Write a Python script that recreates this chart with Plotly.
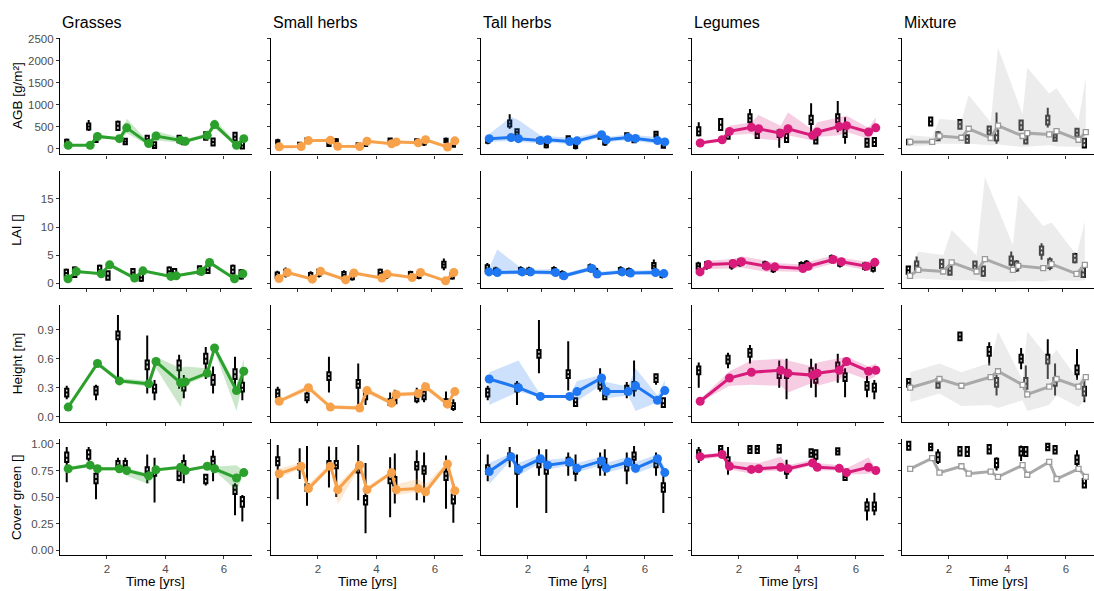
import plotly.graph_objects as go

# ---------------- categories / times ----------------
species = ["Grasses", "Small herbs", "Tall herbs", "Legumes", "Mixture"]
variables = ["AGB [g/m²]", "LAI []", "Height [m]", "Cover green []"]

t_full = [0.68, 1.43, 1.68, 2.43, 2.68, 3.43, 3.68, 4.52, 4.68, 5.43, 5.68, 6.43, 6.68]
o_full = [0.63, 1.38, 1.63, 2.38, 2.63, 3.38, 3.63, 4.47, 4.63, 5.38, 5.63, 6.38, 6.63]
t_lai = [1.43, 1.68, 2.43, 2.68, 3.43, 3.68, 4.52, 4.68, 5.43, 5.68, 6.43, 6.68]
o_lai = [1.38, 1.63, 2.38, 2.63, 3.38, 3.63, 4.47, 4.63, 5.38, 5.63, 6.38, 6.63]
t_hgt = [0.68, 1.68, 2.43, 3.43, 3.68, 4.52, 4.68, 5.43, 5.68, 6.43, 6.68]
o_hgt = [0.63, 1.63, 2.38, 3.38, 3.63, 4.47, 4.63, 5.38, 5.63, 6.38, 6.63]

# observed boxes: [lower whisker, q1, median, q3, upper whisker]
# ---------------- Grasses ----------------
grasses_agb_mid = [75, 75, 275, 225, 470, 112, 285, 190, 165, 300, 545, 75, 225]
grasses_agb_lo = [55, 55, 240, 195, 350, 70, 180, 130, 130, 260, 460, 50, 190]
grasses_agb_hi = [95, 100, 310, 260, 680, 150, 400, 250, 210, 345, 680, 110, 260]
grasses_agb_obs = [[60, 85, 130, 200, 230], [400, 430, 500, 570, 650], [130, 150, 200, 260, 290],
                   [400, 420, 520, 610, 640], [80, 100, 160, 225, 240], [120, 140, 210, 290, 310],
                   [0, 10, 70, 140, 160], [120, 140, 210, 290, 300], [80, 100, 160, 220, 240],
                   [180, 200, 290, 370, 400], [50, 70, 150, 230, 250], [160, 180, 270, 360, 380],
                   [-10, 0, 70, 150, 170]]
grasses_lai_mid = [0.77, 2.07, 1.66, 3.26, 0.89, 2.19, 1.19, 1.30, 2.07, 3.68, 0.77, 1.66]
grasses_lai_lo = [0.6, 1.85, 1.45, 2.9, 0.75, 1.95, 1.0, 1.1, 1.85, 3.3, 0.6, 1.45]
grasses_lai_hi = [0.95, 2.3, 1.9, 3.7, 1.05, 2.45, 1.4, 1.55, 2.3, 4.1, 0.95, 1.9]
grasses_lai_obs = [[1.0, 1.2, 1.8, 2.4, 2.6], [0.9, 1.1, 1.9, 2.8, 3.0], [1.6, 1.8, 2.4, 3.1, 3.3],
                   [0.4, 0.6, 1.3, 2.1, 2.3], [1.1, 1.3, 1.9, 2.5, 2.7], [0.2, 0.4, 1.0, 1.7, 1.9],
                   [1.3, 1.5, 2.1, 2.8, 3.0], [1.0, 1.2, 1.8, 2.5, 2.7], [1.5, 1.7, 2.3, 3.0, 3.2],
                   [1.6, 1.8, 2.4, 3.1, 3.3], [1.5, 1.7, 2.4, 3.1, 3.3], [0.6, 0.8, 1.5, 2.3, 2.5]]
grasses_hgt_mid = [0.10, 0.55, 0.37, 0.34, 0.57, 0.35, 0.36, 0.45, 0.71, 0.27, 0.47]
grasses_hgt_lo = [0.09, 0.53, 0.35, 0.31, 0.50, 0.10, 0.33, 0.42, 0.68, 0.06, 0.40]
grasses_hgt_hi = [0.11, 0.57, 0.40, 0.37, 0.62, 0.50, 0.52, 0.50, 0.74, 0.33, 0.60]
grasses_hgt_obs = [[0.18, 0.21, 0.25, 0.29, 0.32], [0.17, 0.23, 0.27, 0.31, 0.33], [0.37, 0.80, 0.84, 0.88, 1.05],
                   [0.24, 0.49, 0.54, 0.58, 0.84], [0.17, 0.25, 0.29, 0.33, 0.38], [0.29, 0.48, 0.53, 0.58, 0.64],
                   [0.19, 0.27, 0.32, 0.37, 0.43], [0.39, 0.55, 0.60, 0.65, 0.72], [0.24, 0.33, 0.38, 0.43, 0.52],
                   [0.26, 0.39, 0.44, 0.49, 0.62], [0.17, 0.26, 0.30, 0.35, 0.45]]
grasses_cov_mid = [0.766, 0.80, 0.766, 0.766, 0.75, 0.70, 0.756, 0.78, 0.75, 0.79, 0.766, 0.68, 0.73]
grasses_cov_lo = [0.75, 0.785, 0.75, 0.75, 0.70, 0.62, 0.74, 0.765, 0.735, 0.775, 0.75, 0.56, 0.715]
grasses_cov_hi = [0.78, 0.815, 0.78, 0.78, 0.77, 0.72, 0.77, 0.795, 0.765, 0.805, 0.785, 0.80, 0.745]
grasses_cov_obs = [[0.64, 0.83, 0.87, 0.92, 0.97], [0.84, 0.86, 0.90, 0.94, 0.97], [0.48, 0.63, 0.67, 0.72, 0.77],
                   [0.73, 0.77, 0.80, 0.84, 0.87], [0.72, 0.77, 0.80, 0.84, 0.87], [0.63, 0.70, 0.74, 0.78, 0.90],
                   [0.45, 0.70, 0.73, 0.77, 0.87], [0.65, 0.66, 0.70, 0.75, 0.77], [0.63, 0.75, 0.80, 0.84, 0.90],
                   [0.61, 0.63, 0.67, 0.71, 0.72], [0.65, 0.80, 0.84, 0.88, 0.94], [0.33, 0.53, 0.57, 0.61, 0.63],
                   [0.27, 0.41, 0.46, 0.50, 0.52]]

# ---------------- Small herbs ----------------
small_agb_mid = [40, 45, 180, 190, 50, 45, 165, 110, 150, 130, 200, 35, 175]
small_agb_lo = [25, 30, 150, 160, 30, 30, 130, 85, 120, 100, 165, 20, 145]
small_agb_hi = [55, 60, 210, 225, 70, 60, 200, 135, 180, 160, 240, 50, 205]
small_agb_obs = [[80, 110, 150, 190, 220], [30, 50, 90, 130, 150], [120, 150, 190, 230, 260],
                 [40, 60, 100, 140, 160], [110, 130, 170, 210, 240], [20, 40, 80, 120, 140],
                 [40, 60, 100, 140, 170], [130, 150, 190, 230, 250], [60, 80, 120, 160, 190],
                 [110, 130, 170, 210, 240], [60, 90, 130, 170, 200], [120, 140, 180, 220, 250],
                 [20, 40, 80, 120, 150]]
small_lai_mid = [0.8, 1.9, 0.7, 2.1, 0.6, 1.8, 0.9, 1.6, 1.0, 1.9, 0.4, 1.9]
small_lai_lo = [0.6, 1.6, 0.5, 1.8, 0.4, 1.5, 0.7, 1.3, 0.8, 1.6, 0.2, 1.6]
small_lai_hi = [1.0, 2.2, 0.9, 2.4, 0.8, 2.1, 1.1, 1.9, 1.2, 2.2, 0.6, 2.2]
small_lai_obs = [[0.7, 0.9, 1.4, 1.9, 2.2], [1.0, 1.3, 1.8, 2.4, 2.8], [0.5, 0.8, 1.3, 1.8, 2.1],
                 [1.0, 1.3, 1.8, 2.4, 2.7], [0.7, 1.0, 1.5, 2.0, 2.3], [0.4, 0.7, 1.2, 1.7, 2.0],
                 [1.0, 1.3, 1.8, 2.4, 2.6], [0.7, 0.9, 1.4, 1.9, 2.1], [0.8, 1.0, 1.5, 2.0, 2.2],
                 [0.7, 0.9, 1.4, 1.9, 2.2], [2.3, 2.8, 3.3, 3.8, 4.4], [0.6, 0.8, 1.3, 1.8, 2.0]]
small_hgt_mid = [0.16, 0.30, 0.10, 0.09, 0.27, 0.14, 0.23, 0.24, 0.31, 0.13, 0.26]
small_hgt_lo = [0.14, 0.27, 0.08, 0.07, 0.24, 0.12, 0.21, 0.22, 0.28, 0.11, 0.24]
small_hgt_hi = [0.18, 0.33, 0.12, 0.11, 0.30, 0.16, 0.25, 0.26, 0.34, 0.15, 0.28]
small_hgt_obs = [[0.17, 0.20, 0.24, 0.28, 0.31], [0.14, 0.17, 0.20, 0.24, 0.27], [0.25, 0.38, 0.42, 0.46, 0.62],
                 [0.08, 0.30, 0.34, 0.38, 0.55], [0.12, 0.18, 0.22, 0.26, 0.30], [0.10, 0.12, 0.15, 0.18, 0.25],
                 [0.12, 0.14, 0.17, 0.20, 0.28], [0.14, 0.16, 0.19, 0.22, 0.30], [0.15, 0.18, 0.22, 0.26, 0.35],
                 [0.10, 0.12, 0.15, 0.18, 0.26], [0.06, 0.08, 0.11, 0.14, 0.18]]
small_cov_mid = [0.72, 0.79, 0.58, 0.79, 0.57, 0.80, 0.57, 0.73, 0.57, 0.58, 0.55, 0.81, 0.56]
small_cov_lo = [0.68, 0.77, 0.55, 0.77, 0.43, 0.78, 0.55, 0.71, 0.52, 0.55, 0.53, 0.79, 0.54]
small_cov_hi = [0.77, 0.82, 0.62, 0.82, 0.62, 0.82, 0.60, 0.75, 0.62, 0.67, 0.62, 0.83, 0.58]
small_cov_obs = [[0.48, 0.80, 0.84, 0.875, 0.99], [0.67, 0.76, 0.78, 0.81, 0.96], [0.42, 0.56, 0.59, 0.62, 0.98],
                 [0.59, 0.77, 0.80, 0.84, 0.975], [0.50, 0.77, 0.80, 0.84, 0.97], [0.47, 0.73, 0.76, 0.80, 0.99],
                 [0.16, 0.43, 0.47, 0.51, 0.82], [0.31, 0.63, 0.67, 0.71, 0.875], [0.44, 0.61, 0.65, 0.69, 0.91],
                 [0.47, 0.76, 0.79, 0.83, 0.94], [0.45, 0.72, 0.75, 0.79, 0.92], [0.39, 0.66, 0.70, 0.74, 0.89],
                 [0.26, 0.44, 0.48, 0.525, 0.625]]

# ---------------- Tall herbs ----------------
tall_agb_mid = [225, 250, 225, 180, 200, 160, 175, 315, 200, 250, 230, 180, 150]
tall_agb_lo = [150, 170, 150, 120, 140, 100, 120, 250, 150, 190, 170, 110, 100]
tall_agb_hi = [330, 720, 650, 300, 280, 250, 260, 380, 260, 320, 300, 260, 220]
tall_agb_obs = [[100, 130, 180, 230, 260], [450, 500, 570, 640, 780], [280, 300, 370, 440, 460],
                [100, 130, 180, 230, 250], [0, 30, 80, 130, 150], [150, 170, 220, 280, 300],
                [-20, 10, 60, 110, 130], [200, 220, 260, 310, 330], [60, 90, 140, 190, 210],
                [230, 250, 300, 350, 370], [120, 140, 190, 240, 260], [250, 270, 320, 380, 400],
                [0, 20, 70, 120, 140]]
tall_lai_mid = [2.0, 1.9, 2.0, 2.0, 1.9, 1.3, 2.6, 1.6, 2.0, 1.8, 1.9, 1.7]
tall_lai_lo = [1.5, 1.5, 1.6, 1.6, 1.4, 1.0, 2.2, 1.3, 1.7, 1.5, 1.5, 1.4]
tall_lai_hi = [2.6, 6.0, 2.5, 2.4, 2.5, 1.7, 3.0, 2.0, 2.4, 2.2, 2.4, 2.1]
tall_lai_obs = [[1.8, 2.1, 2.6, 3.2, 3.6], [1.3, 1.6, 2.1, 2.6, 2.9], [1.4, 1.7, 2.2, 2.7, 3.0],
                [1.3, 1.6, 2.1, 2.6, 2.9], [1.4, 1.7, 2.2, 2.7, 3.0], [0.7, 1.0, 1.5, 2.0, 2.3],
                [1.9, 2.2, 2.7, 3.2, 3.5], [1.2, 1.5, 2.0, 2.5, 2.8], [1.4, 1.7, 2.2, 2.7, 3.0],
                [1.2, 1.5, 2.0, 2.5, 2.8], [2.3, 2.6, 3.1, 3.6, 4.2], [0.8, 1.1, 1.5, 2.0, 2.3]]
tall_hgt_mid = [0.39, 0.30, 0.21, 0.21, 0.26, 0.40, 0.26, 0.26, 0.32, 0.17, 0.27]
tall_hgt_lo = [0.12, 0.26, 0.20, 0.19, 0.16, 0.33, 0.19, 0.22, 0.06, 0.15, 0.26]
tall_hgt_hi = [0.46, 0.58, 0.23, 0.22, 0.37, 0.43, 0.36, 0.31, 0.50, 0.22, 0.38]
tall_hgt_obs = [[0.17, 0.21, 0.25, 0.29, 0.32], [0.12, 0.26, 0.30, 0.34, 0.37], [0.45, 0.61, 0.65, 0.69, 1.0],
                [0.27, 0.40, 0.44, 0.48, 0.78], [0.10, 0.11, 0.15, 0.19, 0.20], [0.26, 0.29, 0.33, 0.38, 0.50],
                [0.17, 0.18, 0.22, 0.26, 0.32], [0.19, 0.24, 0.28, 0.32, 0.36], [0.21, 0.27, 0.31, 0.36, 0.58],
                [0.33, 0.36, 0.40, 0.44, 0.45], [0.09, 0.10, 0.14, 0.19, 0.20]]
tall_cov_mid = [0.74, 0.88, 0.76, 0.86, 0.80, 0.83, 0.77, 0.84, 0.77, 0.83, 0.77, 0.86, 0.73]
tall_cov_lo = [0.62, 0.85, 0.70, 0.82, 0.76, 0.80, 0.73, 0.80, 0.73, 0.78, 0.72, 0.80, 0.68]
tall_cov_hi = [0.82, 0.91, 0.82, 0.90, 0.85, 0.87, 0.82, 0.88, 0.82, 0.88, 0.83, 0.90, 0.78]
tall_cov_obs = [[0.65, 0.72, 0.76, 0.80, 0.90], [0.78, 0.85, 0.88, 0.91, 0.97], [0.40, 0.72, 0.76, 0.80, 0.90],
                [0.70, 0.78, 0.82, 0.86, 0.95], [0.35, 0.72, 0.76, 0.80, 0.95], [0.70, 0.80, 0.83, 0.87, 0.92],
                [0.65, 0.72, 0.76, 0.80, 0.90], [0.70, 0.78, 0.82, 0.86, 0.92], [0.70, 0.80, 0.83, 0.86, 0.95],
                [0.62, 0.75, 0.79, 0.83, 0.92], [0.75, 0.85, 0.88, 0.92, 0.98], [0.70, 0.78, 0.82, 0.86, 0.92],
                [0.35, 0.55, 0.59, 0.63, 0.75]]

# ---------------- Legumes ----------------
leg_agb_mid = [127, 200, 390, 485, 450, 350, 450, 300, 375, 500, 520, 375, 470]
leg_agb_lo = [110, 180, 300, 335, 225, 185, 300, 185, 260, 300, 375, 225, 410]
leg_agb_hi = [145, 220, 520, 600, 760, 520, 820, 425, 600, 710, 745, 470, 710]
leg_agb_obs = [[276, 300, 390, 485, 600], [410, 420, 540, 670, 690], [200, 225, 300, 375, 390],
               [560, 600, 690, 780, 900], [220, 240, 330, 410, 430], [15, 260, 330, 410, 450],
               [130, 150, 240, 335, 350], [300, 560, 650, 745, 1030], [110, 115, 200, 300, 380],
               [370, 600, 690, 780, 1080], [110, 260, 350, 450, 710], [30, 40, 130, 225, 240],
               [50, 60, 150, 240, 260]]
leg_lai_mid = [2.0, 3.3, 3.5, 3.8, 3.0, 2.9, 2.6, 3.0, 4.2, 3.8, 3.0, 3.7]
leg_lai_lo = [1.8, 2.5, 2.6, 2.8, 2.0, 2.1, 2.0, 2.3, 3.5, 3.2, 2.3, 3.0]
leg_lai_hi = [2.2, 4.0, 4.3, 4.8, 4.0, 3.6, 3.3, 3.8, 4.9, 4.5, 3.8, 4.3]
leg_lai_obs = [[2.2, 2.5, 3.0, 3.5, 3.8], [2.4, 2.7, 3.2, 3.7, 4.0], [2.4, 2.8, 3.3, 3.8, 4.2],
               [2.9, 3.2, 3.7, 4.2, 4.5], [2.4, 2.7, 3.2, 3.7, 4.0], [1.8, 2.1, 2.6, 3.1, 3.4],
               [2.3, 2.6, 3.1, 3.6, 3.9], [2.5, 2.8, 3.3, 3.8, 4.1], [3.5, 3.8, 4.3, 4.8, 5.1],
               [2.8, 3.1, 3.6, 4.1, 4.4], [2.2, 2.5, 3.0, 3.5, 3.8], [1.9, 2.2, 2.7, 3.2, 3.5]]
leg_hgt_mid = [0.16, 0.40, 0.46, 0.48, 0.45, 0.43, 0.45, 0.48, 0.57, 0.47, 0.48]
leg_hgt_lo = [0.15, 0.32, 0.33, 0.32, 0.25, 0.35, 0.32, 0.38, 0.46, 0.38, 0.42]
leg_hgt_hi = [0.18, 0.47, 0.58, 0.60, 0.58, 0.52, 0.56, 0.60, 0.62, 0.52, 0.55]
leg_hgt_obs = [[0.30, 0.44, 0.48, 0.52, 0.56], [0.50, 0.55, 0.59, 0.63, 0.66], [0.55, 0.62, 0.66, 0.70, 0.74],
               [0.30, 0.40, 0.44, 0.48, 0.58], [0.18, 0.40, 0.44, 0.48, 0.60], [0.30, 0.42, 0.46, 0.50, 0.60],
               [0.20, 0.35, 0.39, 0.43, 0.55], [0.35, 0.48, 0.52, 0.56, 0.65], [0.20, 0.37, 0.41, 0.45, 0.50],
               [0.20, 0.28, 0.32, 0.36, 0.42], [0.18, 0.26, 0.30, 0.34, 0.38]]
leg_cov_mid = [0.88, 0.90, 0.79, 0.76, 0.766, 0.78, 0.766, 0.82, 0.78, 0.77, 0.73, 0.78, 0.75]
leg_cov_lo = [0.85, 0.88, 0.76, 0.72, 0.74, 0.75, 0.74, 0.80, 0.75, 0.75, 0.71, 0.72, 0.73]
leg_cov_hi = [0.90, 0.92, 0.84, 0.82, 0.82, 0.88, 0.80, 0.85, 0.82, 0.80, 0.77, 0.875, 0.77]
leg_cov_obs = [[0.82, 0.875, 0.91, 0.94, 0.97], [0.91, 0.915, 0.95, 0.98, 0.985], [0.71, 0.80, 0.84, 0.875, 0.97],
               [0.91, 0.915, 0.95, 0.98, 0.985], [0.91, 0.915, 0.95, 0.98, 0.985], [0.915, 0.92, 0.955, 0.99, 0.995],
               [0.67, 0.72, 0.75, 0.78, 0.85], [0.875, 0.88, 0.915, 0.95, 0.955], [0.84, 0.86, 0.90, 0.94, 0.95],
               [0.895, 0.90, 0.93, 0.96, 0.965], [0.655, 0.66, 0.69, 0.72, 0.725], [0.28, 0.375, 0.41, 0.45, 0.49],
               [0.33, 0.375, 0.41, 0.45, 0.54]]

# ---------------- Mixture ----------------
mix_agb_mid = [150, 150, 285, 245, 450, 240, 520, 285, 350, 320, 395, 200, 375]
mix_agb_lo = [50, 75, 110, 110, 110, 75, 90, 37, 52, 75, 52, 37, 52]
mix_agb_hi = [300, 260, 670, 630, 1220, 600, 2290, 780, 1840, 1250, 1370, 630, 1600]
mix_agb_obs = [[80, 100, 150, 200, 220], [520, 525, 615, 705, 710], [180, 190, 280, 370, 400],
               [445, 450, 550, 650, 655], [125, 130, 215, 300, 305], [315, 320, 410, 500, 505],
               [110, 185, 300, 410, 820], [400, 425, 530, 635, 660], [110, 115, 205, 300, 305],
               [480, 545, 645, 745, 930], [170, 175, 250, 320, 325], [250, 275, 360, 450, 470],
               [20, 25, 125, 225, 230]]
mix_lai_mid = [1.30, 2.37, 2.07, 3.68, 2.07, 4.27, 2.37, 3.08, 2.67, 3.38, 1.66, 3.26]
mix_lai_lo = [0.7, 0.8, 0.6, 0.5, 0.5, 0.3, 0.3, 0.4, 0.3, 0.5, 0.4, 0.5]
mix_lai_hi = [2.6, 5.6, 5.0, 9.5, 4.9, 18.9, 6.8, 15.7, 10.2, 10.8, 5.0, 11.0]
mix_lai_obs = [[1.5, 1.66, 2.3, 2.96, 3.1], [2.07, 2.37, 3.1, 3.85, 4.74], [2.5, 2.67, 3.4, 4.15, 4.3],
               [1.3, 1.48, 2.2, 2.96, 3.1], [2.2, 2.37, 3.1, 3.85, 4.0], [1.1, 1.30, 2.1, 2.96, 3.1],
               [2.96, 3.26, 4.0, 4.74, 5.63], [2.0, 2.25, 3.05, 3.85, 4.1], [4.15, 5.04, 5.8, 6.52, 7.1],
               [2.3, 2.67, 3.5, 4.27, 4.6], [3.5, 3.73, 4.5, 5.2, 5.4], [0.9, 1.07, 1.9, 2.67, 2.8]]
mix_hgt_mid = [0.30, 0.39, 0.32, 0.41, 0.47, 0.33, 0.23, 0.31, 0.39, 0.31, 0.41]
mix_hgt_lo = [0.15, 0.24, 0.11, 0.12, 0.09, 0.17, 0.06, 0.12, 0.22, 0.10, 0.19]
mix_hgt_hi = [0.46, 0.55, 0.46, 0.56, 0.88, 0.38, 0.88, 0.60, 0.69, 0.38, 0.45]
mix_hgt_obs = [[0.30, 0.31, 0.35, 0.39, 0.40], [0.29, 0.30, 0.345, 0.39, 0.40], [0.78, 0.79, 0.83, 0.87, 0.88],
               [0.53, 0.63, 0.67, 0.72, 0.77], [0.22, 0.31, 0.35, 0.40, 0.43], [0.49, 0.56, 0.60, 0.64, 0.71],
               [0.20, 0.29, 0.34, 0.40, 0.53], [0.39, 0.55, 0.59, 0.64, 0.80], [0.22, 0.32, 0.36, 0.40, 0.55],
               [0.38, 0.44, 0.48, 0.53, 0.70], [0.15, 0.22, 0.26, 0.31, 0.38]]
mix_cov_mid = [0.766, 0.866, 0.73, 0.79, 0.72, 0.74, 0.69, 0.80, 0.71, 0.83, 0.67, 0.766, 0.69]
mix_cov_lo = [0.756, 0.856, 0.72, 0.78, 0.71, 0.73, 0.68, 0.79, 0.70, 0.82, 0.66, 0.756, 0.68]
mix_cov_hi = [0.776, 0.876, 0.74, 0.80, 0.73, 0.75, 0.70, 0.81, 0.72, 0.84, 0.68, 0.776, 0.70]
mix_cov_obs = [[0.94, 0.945, 0.98, 1.02, 1.025], [0.935, 0.94, 0.97, 1.0, 1.005], [0.81, 0.83, 0.875, 0.92, 0.95],
               [0.885, 0.89, 0.93, 0.97, 0.975], [0.88, 0.885, 0.925, 0.97, 0.975], [0.905, 0.91, 0.95, 0.99, 0.995],
               [0.75, 0.78, 0.82, 0.86, 0.875], [0.84, 0.89, 0.93, 0.97, 0.985], [0.88, 0.885, 0.925, 0.97, 0.975],
               [0.935, 0.94, 0.97, 1.0, 1.005], [0.905, 0.91, 0.945, 0.98, 0.985], [0.765, 0.81, 0.85, 0.89, 0.94],
               [0.58, 0.59, 0.63, 0.67, 0.70]]

# ---------------- styling ----------------
line_colors = ["#2ca02c", "#f7a24b", "#1f78f2", "#d81b7a", "#a9a9a9"]
ribbon_colors = ["rgba(44,160,44,0.25)", "rgba(247,162,75,0.25)", "rgba(31,120,242,0.22)",
                 "rgba(216,27,122,0.22)", "rgba(200,200,200,0.35)"]

row_times = [(t_full, o_full), (t_lai, o_lai), (t_hgt, o_hgt), (t_full, o_full)]
row_xrange = [[0.40, 6.96], [1.19, 6.955], [0.40, 6.96], [0.40, 6.96]]
row_xticks = [[2, 4, 6], [2, 3, 4, 5, 6], [2, 4, 6], [2, 4, 6]]
row_yrange = [[-135, 2522], [-0.89, 19.93], [-0.0515, 1.155], [-0.047, 1.05]]
row_yticks = [[0, 500, 1000, 1500, 2000, 2500], [0, 5, 10, 15], [0, 0.3, 0.6, 0.9], [0, 0.25, 0.5, 0.75, 1.0]]
row_yticktext = [["0", "500", "1000", "1500", "2000", "2500"], ["0", "5", "10", "15"],
                 ["0.0", "0.3", "0.6", "0.9"], ["0.00", "0.25", "0.50", "0.75", "1.00"]]
row_boxw = [0.11, 0.10, 0.11, 0.11]

panels = [
    [(grasses_agb_mid, grasses_agb_lo, grasses_agb_hi, grasses_agb_obs),
     (small_agb_mid, small_agb_lo, small_agb_hi, small_agb_obs),
     (tall_agb_mid, tall_agb_lo, tall_agb_hi, tall_agb_obs),
     (leg_agb_mid, leg_agb_lo, leg_agb_hi, leg_agb_obs),
     (mix_agb_mid, mix_agb_lo, mix_agb_hi, mix_agb_obs)],
    [(grasses_lai_mid, grasses_lai_lo, grasses_lai_hi, grasses_lai_obs),
     (small_lai_mid, small_lai_lo, small_lai_hi, small_lai_obs),
     (tall_lai_mid, tall_lai_lo, tall_lai_hi, tall_lai_obs),
     (leg_lai_mid, leg_lai_lo, leg_lai_hi, leg_lai_obs),
     (mix_lai_mid, mix_lai_lo, mix_lai_hi, mix_lai_obs)],
    [(grasses_hgt_mid, grasses_hgt_lo, grasses_hgt_hi, grasses_hgt_obs),
     (small_hgt_mid, small_hgt_lo, small_hgt_hi, small_hgt_obs),
     (tall_hgt_mid, tall_hgt_lo, tall_hgt_hi, tall_hgt_obs),
     (leg_hgt_mid, leg_hgt_lo, leg_hgt_hi, leg_hgt_obs),
     (mix_hgt_mid, mix_hgt_lo, mix_hgt_hi, mix_hgt_obs)],
    [(grasses_cov_mid, grasses_cov_lo, grasses_cov_hi, grasses_cov_obs),
     (small_cov_mid, small_cov_lo, small_cov_hi, small_cov_obs),
     (tall_cov_mid, tall_cov_lo, tall_cov_hi, tall_cov_obs),
     (leg_cov_mid, leg_cov_lo, leg_cov_hi, leg_cov_obs),
     (mix_cov_mid, mix_cov_lo, mix_cov_hi, mix_cov_obs)],
]

W, H = 1094, 591
col_left = [60, 271, 481, 692, 902]
panel_w = 192
row_top = [33, 168, 303, 438]
panel_h = 118

FONT = "Liberation Sans, Arial, sans-serif"
fig = go.Figure()
layout = dict(width=W, height=H, margin=dict(l=0, r=0, t=0, b=0), plot_bgcolor="white",
              paper_bgcolor="white", showlegend=False, boxmode="overlay",
              font=dict(family=FONT, color="black"))
annotations = []

for r in range(4):
    t_mod, t_obs = row_times[r]
    for c in range(5):
        k = r * 5 + c + 1
        xa = "x" if k == 1 else f"x{k}"
        ya = "y" if k == 1 else f"y{k}"
        mid, lo, hi, obs = panels[r][c]
        col = line_colors[c]
        # ribbon
        fig.add_trace(go.Scatter(x=list(t_mod) + list(t_mod)[::-1], y=list(hi) + list(lo)[::-1],
                                 fill="toself", fillcolor=ribbon_colors[c], mode="lines",
                                 line=dict(width=0), hoverinfo="skip", xaxis=xa, yaxis=ya))
        # observed boxes
        fig.add_trace(go.Box(x=t_obs, lowerfence=[o[0] for o in obs], q1=[o[1] for o in obs],
                             median=[o[2] for o in obs], q3=[o[3] for o in obs],
                             upperfence=[o[4] for o in obs], width=row_boxw[r], whiskerwidth=0,
                             line=dict(color="black", width=2), fillcolor="white", boxpoints=False,
                             hoverinfo="skip", xaxis=xa, yaxis=ya))
        # model line
        if c == 4:
            marker = dict(symbol="square", size=5, color="white", line=dict(color="#9a9a9a", width=1.3))
        else:
            marker = dict(symbol="circle", size=9, color=col)
        fig.add_trace(go.Scatter(x=t_mod, y=mid, mode="lines+markers", line=dict(color=col, width=3),
                                 marker=marker, hoverinfo="skip", xaxis=xa, yaxis=ya))

        L = col_left[c]
        T = row_top[r]
        layout["xaxis" if k == 1 else f"xaxis{k}"] = dict(
            domain=[L / W, (L + panel_w) / W], range=row_xrange[r], anchor=ya,
            showline=True, linecolor="black", linewidth=1.2, ticks="outside", ticklen=3,
            tickcolor="#333333", tickvals=row_xticks[r], showticklabels=(r == 3),
            tickfont=dict(size=11.5, color="#4d4d4d"), showgrid=False, zeroline=False, fixedrange=True)
        layout["yaxis" if k == 1 else f"yaxis{k}"] = dict(
            domain=[1 - (T + panel_h) / H, 1 - T / H], range=row_yrange[r], anchor=xa,
            showline=True, linecolor="black", linewidth=1.2, ticks="outside", ticklen=3,
            tickcolor="#333333", tickvals=row_yticks[r], ticktext=row_yticktext[r],
            showticklabels=(c == 0), tickfont=dict(size=11.5, color="#4d4d4d"),
            showgrid=False, zeroline=False, fixedrange=True)

for c, name in enumerate(species):
    annotations.append(dict(text=name, x=col_left[c] / W, y=1 - 18 / H, xref="paper", yref="paper",
                            xanchor="left", yanchor="middle", showarrow=False,
                            font=dict(size=16, color="black", family=FONT)))
    annotations.append(dict(text="Time [yrs]", x=(col_left[c] + panel_w / 2) / W, y=1 - 582 / H,
                            xref="paper", yref="paper", xanchor="center", yanchor="middle",
                            showarrow=False, font=dict(size=13.5, color="black", family=FONT)))
for r, name in enumerate(variables):
    annotations.append(dict(text=name, x=17 / W, y=1 - (row_top[r] + panel_h / 2) / H, xref="paper",
                            yref="paper", xanchor="center", yanchor="middle", textangle=-90,
                            showarrow=False, font=dict(size=13.5, color="black", family=FONT)))

layout["annotations"] = annotations
fig.update_layout(**layout)
fig.write_html("out.html")
